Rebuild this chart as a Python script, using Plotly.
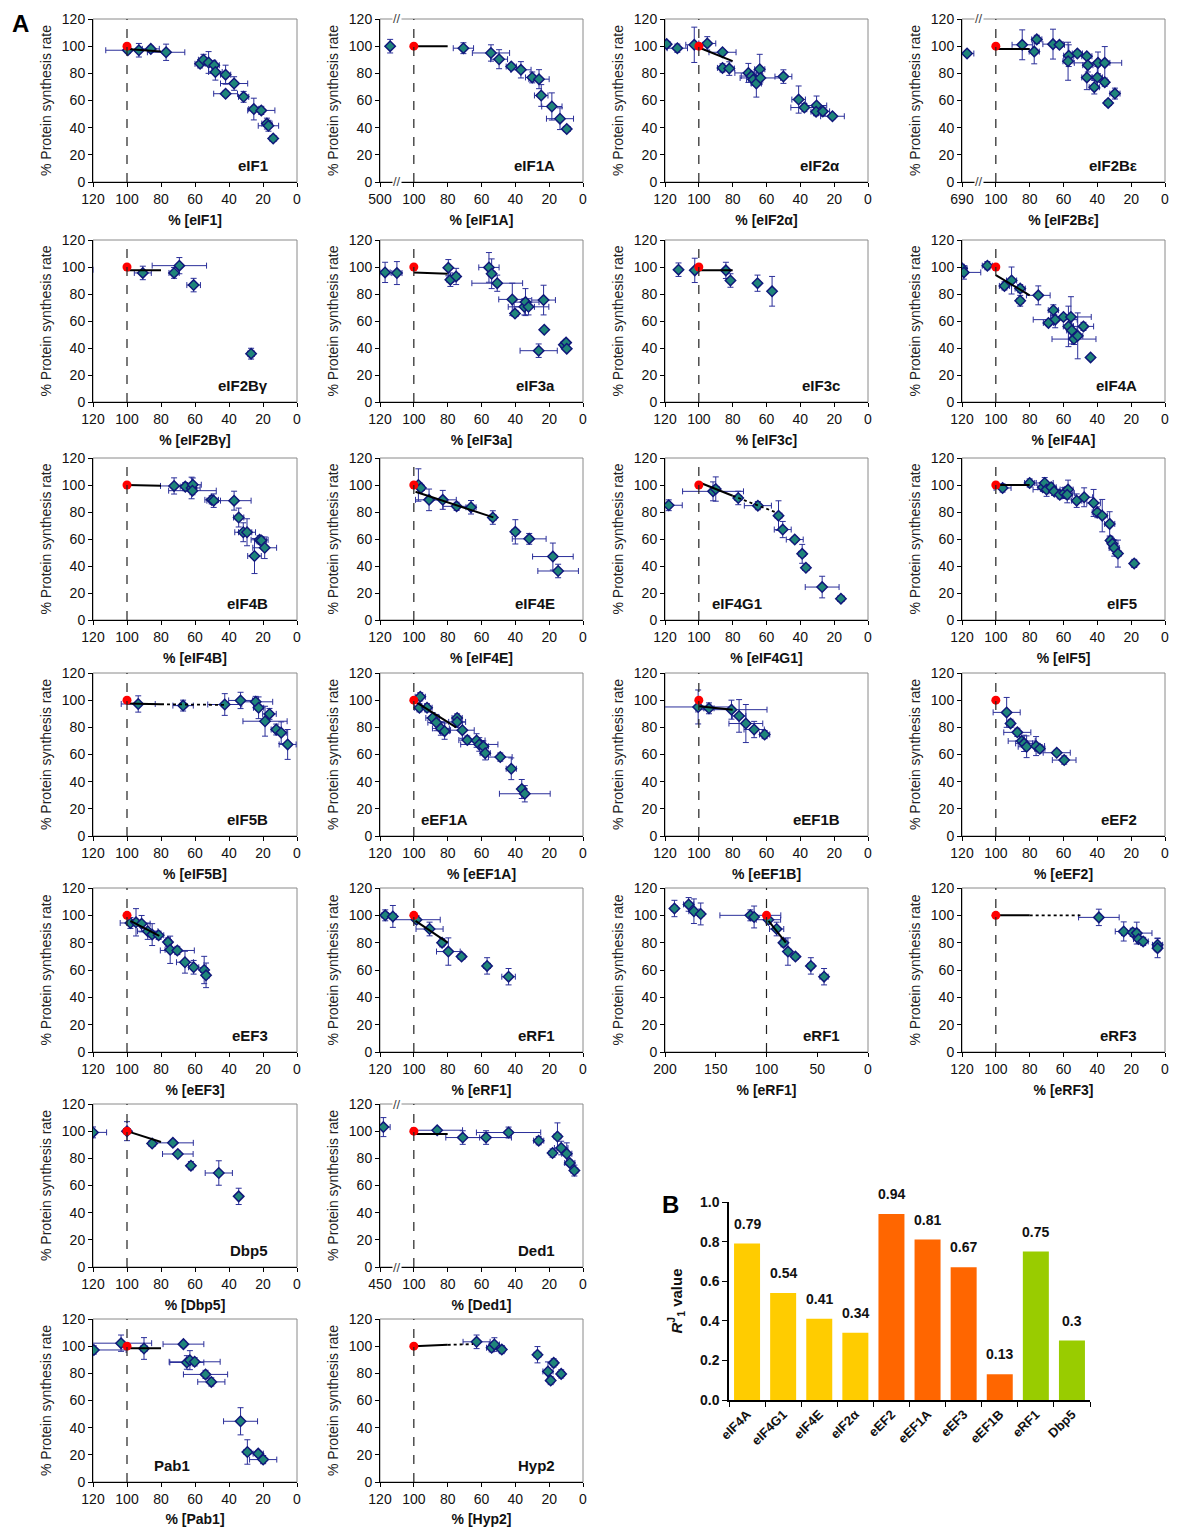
import plotly.graph_objects as go

PAGE_W, PAGE_H = 1177, 1527
BODY = 8  # default page margin around the plot div
W, H = PAGE_W - BODY, PAGE_H - BODY

# ---------------- DATA (x %, y %, x error, y error) ----------------
eIF1_points = [(99.5, 97, 13, 2), (93, 97, 5, 5), (86, 98, 5, 2), (77, 95.5, 11, 6), (57, 87, 3, 3),
               (55, 90, 3, 4), (52, 88, 4, 8), (48.7, 86, 3, 3), (48, 81, 4, 6), (42, 79, 3, 7),
               (42, 65, 7, 2), (37, 72.5, 8, 5), (31.4, 62.7, 3, 4), (25.4, 53.7, 3, 8), (21, 52.7, 8, 3),
               (17.7, 43, 3, 4), (16.8, 41.4, 6, 4), (14, 32, 2, 2)]
eIF1_fit = [(100, 98), (80, 96)]

eIF1A_points = [(114, 100, 0, 5), (70.7, 98.5, 6, 4), (54.4, 95, 11, 6), (49.6, 90.4, 5, 7), (42.4, 85, 3, 2),
                (36.7, 82.6, 6, 6), (30, 77, 4, 4), (26, 75.7, 6, 7), (24.7, 63.7, 4, 8), (18.4, 55.6, 6, 10),
                (13.6, 46.6, 8, 8), (9.6, 39, 2, 2)]
eIF1A_fit = [(100, 100), (80, 100)]

eIF2a_points = [(119, 101.5, 2, 2), (112.7, 98.5, 6, 3), (102.7, 101, 5, 13), (95, 102, 5, 5), (86, 95.5, 8, 2),
                (86, 84, 3, 3), (82, 83.5, 3, 5), (70.7, 80.3, 8, 7), (68.9, 78, 6, 3), (67.8, 75.4, 4, 4),
                (66, 72.5, 3, 10), (64, 83, 3, 11), (63.6, 76.6, 12, 3), (50, 77.6, 5, 5), (41, 60.7, 4, 10),
                (37.6, 54.8, 8, 3), (30.4, 56.3, 6, 7), (30.7, 51.8, 3, 3), (26.7, 52, 4, 3), (21, 48.4, 7, 2)]
eIF2a_fit = [(100, 99), (80, 89)]

eIF2Be_points = [(117, 94.6, 4, 2), (84.4, 101, 6, 11), (77.3, 96, 3, 9), (75.8, 105, 3, 3), (66.2, 101.5, 6, 11),
                 (62.4, 101, 3, 2), (56.9, 93, 3, 8), (57.3, 88.9, 3, 14), (51.8, 94.6, 3, 2), (46.2, 92.6, 3, 2),
                 (46.2, 77, 3, 9), (45.6, 86, 3, 5), (41.8, 69.8, 3, 5), (40, 77, 3, 8), (39.6, 87.7, 14, 8),
                 (35.6, 73.5, 2, 3), (35.6, 87.7, 3, 12), (33.6, 58.2, 2, 2), (29.6, 65.1, 3, 4)]
eIF2Be_fit = [(100, 98), (80, 98)]

eIF2Bg_points = [(124, 98, 4, 0), (90.7, 95.6, 5, 5), (72.3, 95.6, 3, 4), (69.2, 101, 16, 6), (60.8, 86.6, 4, 5),
                 (27, 35.8, 2, 4)]
eIF2Bg_fit = [(100, 97.5), (80, 97.5)]

eIF3a_points = [(117, 96, 3, 7.5), (110, 95.5, 3, 8.5), (79.6, 99.5, 1, 6), (78.4, 90.6, 2, 5), (75, 93, 2, 6),
                (55.6, 99.7, 6, 11), (54, 95, 2, 11), (50.7, 88, 15, 6), (41.8, 76, 8, 12), (40.2, 65.5, 2, 2),
                (34.7, 70.5, 6, 6), (34, 74, 8, 10), (32.2, 70.5, 12, 6), (23.3, 75.5, 7, 11), (22.9, 53.5, 1, 1),
                (26.2, 38, 11, 5), (11.3, 42.4, 2, 2), (10, 44, 1, 1), (9.6, 39.5, 1, 1)]
eIF3a_fit = [(100, 96), (80, 95)]

eIF3c_points = [(112, 98, 0, 5), (102.4, 97.5, 0, 9), (84, 97.5, 0, 6), (81.3, 90, 0, 5), (65.3, 88, 0, 6),
                (56.7, 82, 0, 11)]
eIF3c_fit = [(100, 97.5), (80, 97.5)]

eIF4A_points = [(120, 99, 3, 3), (118.9, 96, 10, 5), (105, 101, 3, 3), (94.9, 86, 3, 3), (90.7, 90, 3, 10),
                (85.6, 84, 3, 3), (85.6, 75, 2, 4), (74.9, 79, 7, 7), (66, 68, 3, 4), (64.9, 61, 13, 6),
                (68.9, 58.6, 3, 2), (60, 63, 4, 2), (55.6, 63, 12, 15), (57.1, 56, 3, 15), (55.1, 53, 3, 10),
                (53.8, 46.6, 13, 4), (51.6, 49, 3, 17), (48.2, 56, 6, 3), (44, 33, 1, 1)]
eIF4A_fit = [(100, 94), (80, 79)]

eIF4B_points = [(72.3, 99.3, 8, 6), (65.7, 98.8, 3, 3), (62, 97.8, 5, 8), (61.3, 100.2, 5, 5), (61.5, 95.8, 14, 3),
                (50.2, 89, 4, 3), (49, 88.4, 4, 5), (37, 88.4, 10, 7), (34.3, 75.9, 3, 7), (31.6, 65, 5, 7),
                (29.4, 65, 5, 10), (22, 59.4, 5, 3), (21, 58.9, 3, 3), (19, 53.5, 7, 8), (25, 47.4, 4, 13)]
eIF4B_fit = [(100, 100), (80, 99.5)]

eIF4E_points = [(97.3, 100, 2, 12), (95.8, 97.8, 2, 2), (91, 89, 8, 8), (82.9, 89, 8, 7), (74.7, 84.2, 8, 3),
                (66.2, 83.5, 3, 5), (53.3, 75.9, 2, 5), (40, 65.3, 2, 9), (31.8, 60.1, 10, 4), (17.8, 47, 12, 10),
                (14.7, 36.3, 12, 5)]
eIF4E_fit = [(99, 95), (53, 76)]

eIF4G1_points = [(117.8, 85, 8, 4), (91.6, 95.3, 18, 7), (90, 97, 2, 9), (76.7, 90.4, 2, 5), (65.1, 84.7, 8, 3),
                 (52.9, 77.3, 2, 11), (50.4, 67, 5, 6), (43.3, 59.6, 5, 2), (38.9, 49, 2, 7), (36.7, 38.7, 2, 2),
                 (27.1, 24.4, 10, 8), (16, 15.8, 2, 2)]
eIF4G1_fit = [(100, 102), (80, 92)]
eIF4G1_ext = [(80, 92), (55, 80)]

eIF5_points = [(96, 97.8, 5, 3), (80, 101.5, 3, 3), (72.2, 98.3, 3, 3), (71.1, 101.5, 5, 4), (70, 96.6, 8, 5),
               (67.3, 98.3, 3, 3), (65.6, 95.3, 3, 3), (62.2, 92.8, 3, 3), (59.6, 94, 6, 4), (57.3, 96.6, 3, 7),
               (57.8, 92.8, 3, 6), (52.2, 88.4, 3, 5), (47.8, 90.9, 5, 7), (42.2, 86.7, 4, 10), (40, 79.8, 3, 4),
               (37.1, 77.3, 3, 12), (32.7, 71.2, 3, 9), (32.2, 58.9, 2, 3), (31.1, 56.5, 2, 3), (30, 53.3, 3, 6),
               (27.8, 49.2, 2, 10), (18.2, 41.9, 2, 3)]
eIF5_fit = [(100, 100), (80, 100)]

eIF5B_points = [(93.4, 97.2, 10, 6), (67, 96, 6, 4), (42.5, 96.8, 10, 8), (33.2, 99.8, 7, 6), (24.3, 98.8, 10, 4),
                (22.6, 94.4, 3, 8), (16.2, 89.9, 4, 4), (18.8, 84.5, 13, 11), (12.2, 78.4, 3, 4), (9.3, 76, 3, 8),
                (5.5, 67.4, 5, 11)]
eIF5B_fit = [(100, 97.5), (80, 97)]
eIF5B_ext = [(80, 97), (42, 96.5)]

eEF1A_points = [(96.2, 102.5, 3, 3), (96.7, 94.4, 3, 3), (92.2, 94.4, 3, 3), (88.9, 86.9, 4, 4), (86.7, 83.5, 5, 6),
                (84, 79.2, 5, 5), (81.8, 77.2, 3, 6), (74.4, 86.9, 3, 3), (74.4, 84, 5, 4), (71.3, 77.9, 7, 6),
                (68.4, 70.6, 5, 3), (62.9, 70.3, 5, 5), (61.3, 67.4, 11, 5), (58.9, 66, 3, 4), (57.8, 61, 3, 5),
                (48.9, 58.1, 7, 3), (42.4, 49.5, 3, 8), (36.2, 34.6, 2, 7), (34.4, 31.1, 15, 6)]
eEF1A_fit = [(98, 98), (75, 80)]

eEF1B_points = [(100.4, 95, 20, 12.5), (94, 94, 3, 4), (80.7, 93, 21, 7), (76.2, 88.4, 4, 12), (72.2, 82.8, 10, 14),
                (67.3, 78.4, 6, 6), (61.1, 74.7, 3, 3)]
eEF1B_fit = [(100, 95.5), (80, 93)]

eEF2_points = [(93.6, 91, 8, 11), (91.3, 82.9, 2, 3), (87.3, 76.3, 8, 3), (84.7, 69.9, 8, 3), (83.3, 68.2, 5, 6),
               (81.8, 65.7, 5, 8), (76.2, 66.2, 5, 7), (74, 64.2, 3, 3), (64, 61.3, 8, 2), (59.6, 55.9, 7, 3)]

eEF3_points = [(98, 94.4, 6, 4), (94.7, 94.9, 3, 10), (91.4, 93.9, 5, 6), (87.8, 88.4, 6, 6), (85.2, 85.9, 2, 8),
               (81.4, 85.4, 3, 3), (75.9, 80.4, 2, 3), (74.6, 74.8, 3, 10), (70.4, 74.3, 10, 3), (65.9, 65.7, 5, 8),
               (60.8, 62, 3, 5), (54.6, 60, 2, 10), (53.5, 56.1, 2, 9)]
eEF3_fit = [(98, 96), (81, 85)]

eRF1_points = [(116.9, 100, 2, 4), (112.4, 99.2, 2, 8), (98.4, 96.8, 14, 3), (90.7, 90, 8, 5), (83.3, 80, 2, 3),
               (79.6, 73.5, 7, 10), (71.8, 69.8, 2, 2), (56.7, 63, 2, 6), (44, 55.1, 4, 6)]
eRF1_fit = [(99, 96), (80, 80)]

eRF1b_points = [(190.7, 105, 3, 6), (176.7, 108, 5, 5), (171.5, 103, 5, 9), (164.8, 101, 3, 8), (115.9, 100, 30, 4),
                (112.2, 98.8, 3, 8), (98.1, 96.8, 12, 3), (90, 90, 7, 5), (83.3, 80, 3, 3), (78.9, 73.5, 3, 10),
                (71.5, 69.8, 3, 2), (56.3, 63, 3, 6), (43.3, 55.1, 4, 6)]
eRF1b_fit = [(98, 96), (81, 80)]

eRF3_points = [(39.1, 98.5, 12, 6), (24.4, 88.2, 5, 7), (19.1, 87.5, 4, 3), (16.7, 87, 9, 8), (15.6, 82.6, 3, 3),
               (12.9, 80.9, 3, 3), (4.4, 78.4, 3, 5), (4.4, 76, 2, 7)]
eRF3_fit = [(100, 100), (80, 100)]
eRF3_ext = [(80, 100), (50, 100)]

Dbp5_points = [(120, 99.1, 8, 4), (100, 100, 2, 7), (85.2, 90.9, 2, 2), (73, 91.4, 12, 2), (70.1, 83.2, 9, 2),
               (62.4, 74.6, 1, 3), (46, 69.2, 8, 9), (34.3, 52, 1, 6)]
Dbp5_fit = [(100, 100), (80, 92)]

Ded1_points = [(118, 103, 4, 7), (86.2, 100.7, 15, 2), (71.1, 95.3, 10, 5), (57.3, 95.3, 15, 5), (44, 99, 19, 4),
               (26.2, 93, 3, 3), (18, 83.9, 2, 3), (15.1, 96.1, 2, 10), (12.9, 87.6, 4, 5), (9.6, 83.4, 3, 8),
               (7.8, 76.6, 3, 2), (5.1, 71, 2, 4)]
Ded1_fit = [(100, 98), (80, 98)]

Pab1_points = [(119.5, 97.2, 19, 3), (103.5, 102.2, 18, 6), (90, 98.3, 2, 8), (66.8, 101.5, 12, 2), (64.8, 88, 10, 5),
               (63, 89.7, 2, 7), (60.2, 88.5, 15, 3), (53.8, 79.2, 13, 3), (50.4, 73.7, 8, 3), (33.2, 44.7, 10, 10),
               (29.2, 22.1, 2, 9), (22.8, 20.9, 3, 2), (19.9, 16.5, 8, 3)]
Pab1_fit = [(100, 98.5), (80, 98.5)]

Hyp2_points = [(62.9, 103.2, 8, 5), (54, 98.8, 3, 3), (52.4, 101.2, 3, 5), (48, 97.5, 2, 3), (26.9, 93.7, 2, 6),
               (20.7, 81.4, 3, 7), (19.1, 74.7, 2, 3), (17.3, 87.7, 2, 3), (12.9, 79.6, 2, 3)]
Hyp2_fit = [(100, 100), (80, 101)]
Hyp2_ext = [(80, 101), (65, 101.5)]

control_point = (100, 100)

std_ticks = [120, 100, 80, 60, 40, 20, 0]
std_ticktext = ["120", "100", "80", "60", "40", "20", "0"]
eIF1A_ticktext = ["500", "100", "80", "60", "40", "20", "0"]
eIF2Be_ticktext = ["690", "100", "80", "60", "40", "20", "0"]
Ded1_ticktext = ["450", "100", "80", "60", "40", "20", "0"]
eRF1b_ticks = [200, 150, 100, 50, 0]
eRF1b_ticktext = ["200", "150", "100", "50", "0"]
y_ticks = [0, 20, 40, 60, 80, 100, 120]

bar_categories = ["eIF4A", "eIF4G1", "eIF4E", "eIF2α", "eEF2", "eEF1A", "eEF3", "eEF1B", "eRF1", "Dbp5"]
bar_values = [0.79, 0.54, 0.41, 0.34, 0.94, 0.81, 0.67, 0.13, 0.75, 0.30]
bar_labels = ["0.79", "0.54", "0.41", "0.34", "0.94", "0.81", "0.67", "0.13", "0.75", "0.3"]
bar_groups = ["init", "init", "init", "init", "elong", "elong", "elong", "elong", "term", "term"]

# ---------------- PANEL SET-UP ----------------
# (name, points, fit, dotted extension, tickvals, ticktext, xmax, label side, broken axis, (row, col))
panels = [
    ("eIF1", eIF1_points, eIF1_fit, None, std_ticks, std_ticktext, 120, "r", False, (0, 0)),
    ("eIF1A", eIF1A_points, eIF1A_fit, None, std_ticks, eIF1A_ticktext, 120, "r", True, (0, 1)),
    ("eIF2α", eIF2a_points, eIF2a_fit, None, std_ticks, std_ticktext, 120, "r", False, (0, 2)),
    ("eIF2Bε", eIF2Be_points, eIF2Be_fit, None, std_ticks, eIF2Be_ticktext, 120, "r", True, (0, 3)),
    ("eIF2Bγ", eIF2Bg_points, eIF2Bg_fit, None, std_ticks, std_ticktext, 120, "r", False, (1, 0)),
    ("eIF3a", eIF3a_points, eIF3a_fit, None, std_ticks, std_ticktext, 120, "r", False, (1, 1)),
    ("eIF3c", eIF3c_points, eIF3c_fit, None, std_ticks, std_ticktext, 120, "r", False, (1, 2)),
    ("eIF4A", eIF4A_points, eIF4A_fit, None, std_ticks, std_ticktext, 120, "r", False, (1, 3)),
    ("eIF4B", eIF4B_points, eIF4B_fit, None, std_ticks, std_ticktext, 120, "r", False, (2, 0)),
    ("eIF4E", eIF4E_points, eIF4E_fit, None, std_ticks, std_ticktext, 120, "r", False, (2, 1)),
    ("eIF4G1", eIF4G1_points, eIF4G1_fit, eIF4G1_ext, std_ticks, std_ticktext, 120, "l", False, (2, 2)),
    ("eIF5", eIF5_points, eIF5_fit, None, std_ticks, std_ticktext, 120, "r", False, (2, 3)),
    ("eIF5B", eIF5B_points, eIF5B_fit, eIF5B_ext, std_ticks, std_ticktext, 120, "r", False, (3, 0)),
    ("eEF1A", eEF1A_points, eEF1A_fit, None, std_ticks, std_ticktext, 120, "l", False, (3, 1)),
    ("eEF1B", eEF1B_points, eEF1B_fit, None, std_ticks, std_ticktext, 120, "r", False, (3, 2)),
    ("eEF2", eEF2_points, None, None, std_ticks, std_ticktext, 120, "r", False, (3, 3)),
    ("eEF3", eEF3_points, eEF3_fit, None, std_ticks, std_ticktext, 120, "r", False, (4, 0)),
    ("eRF1", eRF1_points, eRF1_fit, None, std_ticks, std_ticktext, 120, "r", False, (4, 1)),
    ("eRF1", eRF1b_points, eRF1b_fit, None, eRF1b_ticks, eRF1b_ticktext, 200, "r", False, (4, 2)),
    ("eRF3", eRF3_points, eRF3_fit, eRF3_ext, std_ticks, std_ticktext, 120, "r", False, (4, 3)),
    ("Dbp5", Dbp5_points, Dbp5_fit, None, std_ticks, std_ticktext, 120, "r", False, (5, 0)),
    ("Ded1", Ded1_points, Ded1_fit, None, std_ticks, Ded1_ticktext, 120, "r", True, (5, 1)),
    ("Pab1", Pab1_points, Pab1_fit, None, std_ticks, std_ticktext, 120, "l", False, (6, 0)),
    ("Hyp2", Hyp2_points, Hyp2_fit, Hyp2_ext, std_ticks, std_ticktext, 120, "r", False, (6, 1)),
]
left_label_x = {"eIF4G1": 0.22, "eEF1A": 0.19, "Pab1": 0.29}

# page-pixel positions of the plot areas
col_px = [(93, 297), (380, 583), (665, 868), (962, 1165)]
row_px = [(19, 182), (240, 402), (458, 620), (673, 836), (888, 1052), (1104, 1267), (1319, 1482)]


def px_x(p):
    return (p - BODY) / W


def px_y(p):
    return 1 - (p - BODY) / H


FONT = "Liberation Sans, Arial, sans-serif"
TEAL = "#1f8579"
NAVY = "#10187a"
EBAR = "#2b2f9a"

fig = go.Figure()
layout = dict(width=W, height=H, autosize=False, margin=dict(l=0, r=0, t=0, b=0, pad=0),
              template="none",
              paper_bgcolor="white", plot_bgcolor="white", showlegend=False,
              font=dict(family=FONT, size=14, color="#111"))
shapes, annotations = [], []

for i, (name, pts, fit, ext, tv, tt, xmax, side, broken, (r, c)) in enumerate(panels):
    n = i + 1
    xa, ya = ("x", "y") if n == 1 else (f"x{n}", f"y{n}")
    xk, yk = ("xaxis", "yaxis") if n == 1 else (f"xaxis{n}", f"yaxis{n}")
    x0, x1 = col_px[c]
    y0, y1 = row_px[r]
    layout[xk] = dict(domain=[px_x(x0), px_x(x1)], range=[xmax, 0], anchor=ya, automargin=False,
                      tickvals=tv, ticktext=tt, ticks="outside", ticklen=4, tickcolor="black",
                      showline=True, linecolor="black", linewidth=1, showgrid=False, zeroline=False,
                      tickfont=dict(size=14, family=FONT, color="#111"),
                      title=dict(text=f"<b>% [{name}]</b>", font=dict(size=14, family=FONT, color="#111"),
                                 standoff=9))
    layout[yk] = dict(domain=[px_y(y1), px_y(y0)], range=[0, 120], anchor=xa, automargin=False,
                      tickvals=y_ticks, ticks="outside", ticklen=4, tickcolor="black",
                      showline=True, linecolor="black", linewidth=1, showgrid=False, zeroline=False,
                      tickfont=dict(size=14, family=FONT, color="#111"),
                      title=dict(text="% Protein synthesis rate", font=dict(size=14, family=FONT, color="#222"),
                                 standoff=6))
    # gray frame
    shapes.append(dict(type="rect", xref=f"{xa} domain", yref=f"{ya} domain", x0=0, x1=1, y0=0, y1=1,
                       line=dict(color="#8a8a8a", width=1), layer="below"))
    # dashed reference line at 100 %
    shapes.append(dict(type="line", xref=xa, yref=f"{ya} domain", x0=control_point[0], x1=control_point[0],
                       y0=0, y1=1, line=dict(color="#222", width=1.2, dash="dash")))
    # data points
    fig.add_trace(go.Scatter(
        x=[p[0] for p in pts], y=[p[1] for p in pts], mode="markers", xaxis=xa, yaxis=ya,
        marker=dict(symbol="diamond", size=8, color=TEAL, line=dict(color=NAVY, width=1.5)),
        error_x=dict(type="data", array=[p[2] for p in pts], color=EBAR, thickness=1, width=3),
        error_y=dict(type="data", array=[p[3] for p in pts], color=EBAR, thickness=1, width=3),
        hoverinfo="skip"))
    if ext:
        fig.add_trace(go.Scatter(x=[p[0] for p in ext], y=[p[1] for p in ext], mode="lines", xaxis=xa, yaxis=ya,
                                 line=dict(color="black", width=1.8, dash="dot"), hoverinfo="skip"))
    if fit:
        fig.add_trace(go.Scatter(x=[p[0] for p in fit], y=[p[1] for p in fit], mode="lines", xaxis=xa, yaxis=ya,
                                 line=dict(color="black", width=2), hoverinfo="skip"))
    fig.add_trace(go.Scatter(x=[control_point[0]], y=[control_point[1]], mode="markers", xaxis=xa, yaxis=ya,
                             marker=dict(symbol="circle", size=9, color="#ff0000"), hoverinfo="skip"))
    # panel label
    if side == "r":
        annotations.append(dict(text=f"<b>{name}</b>", xref=f"{xa} domain", yref=f"{ya} domain",
                                x=0.87, y=0.1, xanchor="right", yanchor="middle", showarrow=False,
                                font=dict(size=15, family=FONT, color="#111")))
    else:
        annotations.append(dict(text=f"<b>{name}</b>", xref=f"{xa} domain", yref=f"{ya} domain",
                                x=left_label_x[name], y=0.1, xanchor="left", yanchor="middle", showarrow=False,
                                font=dict(size=15, family=FONT, color="#111")))
    if broken:
        for yy in (0, 1):
            annotations.append(dict(text="//", xref=xa, yref=f"{ya} domain", x=110, y=yy,
                                    xanchor="center", yanchor="middle", showarrow=False,
                                    bgcolor="white", borderpad=0,
                                    font=dict(size=13, family=FONT, color="#444")))

# ---------------- BAR CHART (B) ----------------
nb = len(panels) + 1
bxa, bya = f"x{nb}", f"y{nb}"
group_colors = {"init": "#ffcc00", "elong": "#ff6600", "term": "#99cc00"}
fig.add_trace(go.Bar(x=bar_categories, y=bar_values, xaxis=bxa, yaxis=bya, width=0.72,
                     marker=dict(color=[group_colors[g] for g in bar_groups], line=dict(width=0)),
                     hoverinfo="skip"))
layout[f"xaxis{nb}"] = dict(domain=[px_x(729), px_x(1090)], anchor=bya, type="category", automargin=False,
                            ticks="outside", tickson="boundaries", ticklen=5, tickcolor="black",
                            showline=True, linecolor="black", linewidth=1.5, showgrid=False,
                            tickangle=-45, tickfont=dict(size=13, family=FONT, color="#111", weight="bold"))
layout[f"yaxis{nb}"] = dict(domain=[px_y(1400), px_y(1202)], anchor=bxa, range=[0, 1.0], automargin=False,
                            tickvals=[0, 0.2, 0.4, 0.6, 0.8, 1.0], tickformat=".1f",
                            ticks="outside", ticklen=5, tickcolor="black",
                            showline=True, linecolor="black", linewidth=1.5, showgrid=False, zeroline=False,
                            tickfont=dict(size=14, family=FONT, color="#111", weight="bold"),
                            title=dict(text="<b><i>R</i><sup>J</sup><sub>1</sub> value</b>",
                                       font=dict(size=15, family=FONT, color="#111"), standoff=14))
for cat, val, lab in zip(bar_categories, bar_values, bar_labels):
    annotations.append(dict(text=f"<b>{lab}</b>", xref=bxa, yref=bya, x=cat, y=val, yshift=10,
                            xanchor="center", yanchor="bottom", showarrow=False,
                            font=dict(size=14, family=FONT, color="#111")))

# figure letters
annotations.append(dict(text="<b>A</b>", xref="paper", yref="paper", x=px_x(10), y=1.0,
                        xanchor="left", yanchor="top", showarrow=False,
                        font=dict(size=24, family=FONT, color="black")))
annotations.append(dict(text="<b>B</b>", xref="paper", yref="paper", x=px_x(660), y=px_y(1189),
                        xanchor="left", yanchor="top", showarrow=False,
                        font=dict(size=24, family=FONT, color="black")))

layout["shapes"] = shapes
layout["annotations"] = annotations
fig.update_layout(**layout)
fig.write_html("out.html")
